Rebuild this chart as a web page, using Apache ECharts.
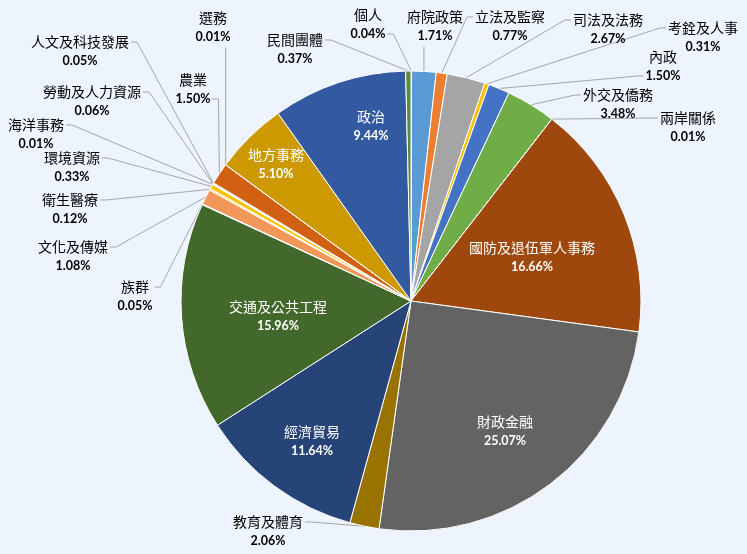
<!DOCTYPE html>
<html>
<head>
    <meta charset="utf-8">
    <title>ECharts</title>
    <script src="https://cdn.jsdelivr.net/npm/echarts@6/dist/echarts.min.js"></script>
    <style>
        html, body { margin: 0; padding: 0; background: #EDF4FD; }
    </style>
</head>
<body>
    <div id="main" style="width: 747px;height:554px;"></div>
    <script type="text/javascript">
    // categories, clockwise from 12 o'clock
    var categories = ['個人', '府院政策', '立法及監察', '司法及法務', '考銓及人事', '內政', '外交及僑務',
        '兩岸關係', '國防及退伍軍人事務', '財政金融', '教育及體育', '經濟貿易', '交通及公共工程', '族群',
        '文化及傳媒', '衛生醫療', '環境資源', '海洋事務', '勞動及人力資源', '人文及科技發展', '農業',
        '選務', '地方事務', '政治', '民間團體'];
    // share in percent
    var shares = [0.04, 1.71, 0.77, 2.67, 0.31, 1.50, 3.48,
        0.01, 16.66, 25.07, 2.06, 11.64, 15.96, 0.05,
        1.08, 0.12, 0.33, 0.01, 0.06, 0.05, 1.50,
        0.01, 5.10, 9.44, 0.37];
    var colors = ['#7F7F7F', '#5B9BD5', '#ED7D31', '#A5A5A5', '#FFC000', '#4472C4', '#70AD47',
        '#255E91', '#9E480E', '#636363', '#997300', '#264478', '#43682B', '#698ED0',
        '#F1975A', '#FFD966', '#FFC000', '#7CAFDD', '#8CC168', '#B7B7B7', '#D26012',
        '#3C7DC4', '#CC9A00', '#335AA1', '#5B8C3A'];

    // label placement: [centre x, name row y, row the leader line attaches to]
    var LINE_H = 19;
    var labelPos = {
        '個人': [368, 15, 'p'],
        '府院政策': [435, 17, 'p'],
        '立法及監察': [510, 17, 'n'],
        '司法及法務': [608, 20, 'n'],
        '考銓及人事': [703, 28, 'n'],
        '內政': [663, 57, 'p'],
        '外交及僑務': [618, 95, 'n'],
        '兩岸關係': [688, 118, 'n'],
        '國防及退伍軍人事務': [532, 248],
        '財政金融': [505, 422],
        '教育及體育': [268, 522, 'n'],
        '經濟貿易': [312, 432],
        '交通及公共工程': [278, 307],
        '族群': [135, 287, 'n'],
        '文化及傳媒': [73, 247, 'n'],
        '衛生醫療': [70, 200, 'n'],
        '環境資源': [72, 158, 'n'],
        '海洋事務': [36, 125, 'n'],
        '勞動及人力資源': [92, 92, 'n'],
        '人文及科技發展': [80, 42, 'n'],
        '農業': [193, 80, 'p'],
        '選務': [213, 18, 'p'],
        '地方事務': [276, 155],
        '政治': [371, 117],
        '民間團體': [295, 40, 'n']
    };

    var INSIDE_MIN = 5;
    var cjk = "'Noto Sans CJK TC', 'Noto Sans CJK SC', sans-serif";
    var num = "Lato, 'Open Sans', sans-serif";

    var pieData = categories.map(function (c, i) {
        var item = { name: c, value: shares[i], itemStyle: { color: colors[i] } };
        if (shares[i] >= INSIDE_MIN) {
            item.label = { position: 'inside' };
            item.labelLine = { show: false };
        }
        return item;
    });

    function layoutLabel(p) {
        var pos = labelPos[categories[p.dataIndex]];
        if (!pos) return;
        var cy = pos[1] + LINE_H / 2;
        var out = { x: pos[0], y: cy, align: 'center', verticalAlign: 'middle' };
        var pts = p.labelLinePoints;
        if (pts && pts.length && pos[2]) {
            var p0 = pts[0];
            var w = p.labelRect.width;
            var left = pos[0] - w / 2, right = pos[0] + w / 2;
            var rowY = pos[2] === 'p' ? pos[1] + LINE_H : pos[1];
            if (p0[0] >= left && p0[0] <= right) {
                var by = p0[1] > cy ? cy + LINE_H + 1 : cy - LINE_H - 1;
                out.labelLinePoints = [p0, [p0[0], (p0[1] + by) / 2], [p0[0], by]];
            } else if (p0[0] < left) {
                out.labelLinePoints = [p0, [left - 8, rowY], [left - 2, rowY]];
            } else {
                out.labelLinePoints = [p0, [right + 8, rowY], [right + 2, rowY]];
            }
        }
        return out;
    }

    var myChart = echarts.init(document.getElementById('main'));
    var option = {
        backgroundColor: '#EDF4FD',
        animation: false,
        series: [{
            type: 'pie',
            center: [411, 301],
            radius: 230,
            startAngle: 90,
            clockwise: true,
            percentPrecision: 2,
            avoidLabelOverlap: false,
            data: pieData,
            itemStyle: { borderColor: '#ffffff', borderWidth: 1 },
            label: {
                show: true,
                position: 'outside',
                formatter: function (p) {
                    var w = p.value >= INSIDE_MIN ? 'w' : '';
                    return '{n' + w + '|' + p.name + '}\n{p' + w + '|' + p.percent.toFixed(2) + '%}';
                },
                rich: {
                    n: { fontFamily: cjk, fontSize: 14, color: '#000', lineHeight: LINE_H, align: 'center' },
                    p: { fontFamily: num, fontSize: 12.5, fontWeight: 'bold', color: '#000', lineHeight: LINE_H, align: 'center' },
                    nw: { fontFamily: cjk, fontSize: 14, color: '#fff', lineHeight: LINE_H, align: 'center' },
                    pw: { fontFamily: num, fontSize: 12.5, fontWeight: 'bold', color: '#fff', lineHeight: LINE_H, align: 'center' }
                }
            },
            labelLine: {
                show: true,
                length: 10,
                length2: 10,
                lineStyle: { color: '#A6A6A6', width: 1 }
            },
            labelLayout: layoutLabel,
            emphasis: { disabled: true }
        }]
    };
    myChart.setOption(option);
    </script>
</body>
</html>
